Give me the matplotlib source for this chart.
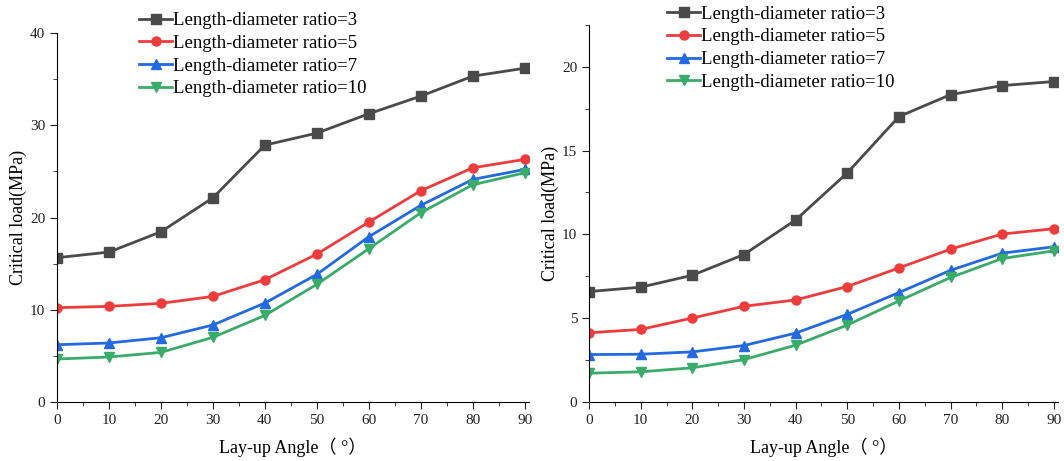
import matplotlib
matplotlib.use('Agg')
import matplotlib.pyplot as plt
from matplotlib.ticker import MultipleLocator

plt.rcParams['font.family'] = ['Liberation Serif', 'Noto Sans CJK SC']

# Data
angles = [0, 10, 20, 30, 40, 50, 60, 70, 80, 90]
labels = ['Length-diameter ratio=3', 'Length-diameter ratio=5',
          'Length-diameter ratio=7', 'Length-diameter ratio=10']

left_r3 = [15.65, 16.26, 18.46, 22.15, 27.86, 29.16, 31.26, 33.17, 35.34, 36.2]
left_r5 = [10.23, 10.37, 10.70, 11.45, 13.26, 16.04, 19.51, 22.91, 25.40, 26.31]
left_r7 = [6.21, 6.40, 6.97, 8.35, 10.73, 13.84, 17.92, 21.32, 24.14, 25.22]
left_r10 = [4.66, 4.88, 5.38, 7.01, 9.39, 12.76, 16.62, 20.52, 23.56, 24.86]

right_r3 = [6.59, 6.85, 7.56, 8.80, 10.86, 13.67, 17.03, 18.34, 18.88, 19.12]
right_r5 = [4.13, 4.33, 5.01, 5.71, 6.09, 6.89, 8.00, 9.12, 10.02, 10.34]
right_r7 = [2.83, 2.85, 2.99, 3.37, 4.11, 5.23, 6.53, 7.86, 8.88, 9.26]
right_r10 = [1.72, 1.80, 2.04, 2.53, 3.39, 4.59, 6.03, 7.43, 8.56, 9.02]

farger = ['#4a4a4a', '#ee3b3b', '#2369e0', '#3aac6a']
markers = ['s', 'o', '^', 'v']

fig = plt.figure(figsize=(10.64, 4.61), dpi=100)
ax1 = fig.add_axes([0.0536, 0.128, 0.4434, 0.800])
ax2 = fig.add_axes([0.5536, 0.128, 0.4408, 0.818])


def tegn(ax, serier, ymax, major, minor, legend_anchor):
    for y, lab, c, m in zip(serier, labels, farger, markers):
        ax.plot(angles, y, color=c, marker=m, markersize=6.5, linewidth=2, label=lab)
    ax.set_xlim(0, 90.8)
    ax.set_ylim(0, ymax)
    ax.xaxis.set_major_locator(MultipleLocator(10))
    ax.xaxis.set_minor_locator(MultipleLocator(5))
    ax.yaxis.set_major_locator(MultipleLocator(major))
    ax.yaxis.set_minor_locator(MultipleLocator(minor))
    ax.spines['top'].set_visible(False)
    ax.spines['right'].set_visible(False)
    ax.tick_params(which='both', direction='out', labelsize=11, colors='#222222')
    ax.tick_params(which='major', length=5)
    ax.tick_params(which='minor', length=3)
    ax.set_xlabel('Lay-up Angle（ °）', fontsize=13, labelpad=8)
    ax.set_ylabel('Critical load(MPa)', fontsize=13, labelpad=2)
    ax.legend(loc='upper left', bbox_to_anchor=legend_anchor, bbox_transform=fig.transFigure,
              frameon=False, prop={'family': 'Liberation Serif', 'size': 13.5},
              handlelength=1.75, handletextpad=0.05,
              labelspacing=0.3, borderaxespad=0, borderpad=0)


tegn(ax1, [left_r3, left_r5, left_r7, left_r10], 40, 10, 5, (0.131, 0.974))
tegn(ax2, [right_r3, right_r5, right_r7, right_r10], 22.5, 5, 2.5, (0.627, 0.988))

fig.savefig('out.png', dpi=100)
